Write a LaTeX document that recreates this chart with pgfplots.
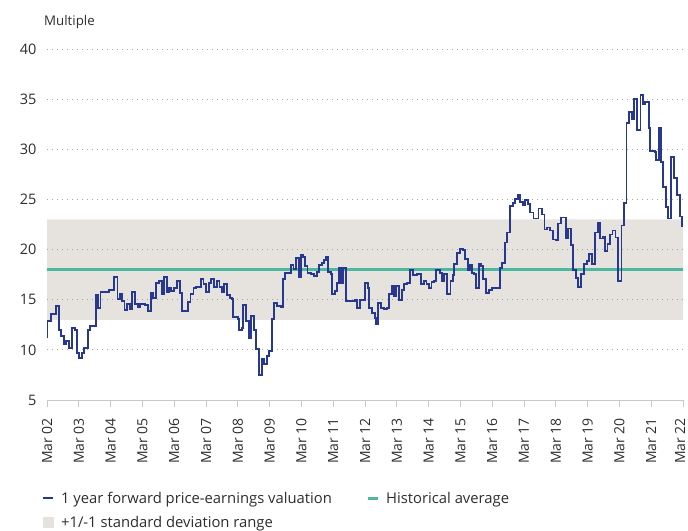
\documentclass[border=0pt]{standalone}
\usepackage{pgfplots}
\pgfplotsset{compat=1.18}
\usepackage{pgfplotstable}
\usepackage{fontspec}
\setmainfont{Open Sans}
\definecolor{navy}{RGB}{40,56,145}
\definecolor{avgteal}{RGB}{76,184,160}
\definecolor{bandc}{RGB}{230,227,222}
\definecolor{gridc}{RGB}{165,165,165}
\definecolor{axc}{RGB}{200,200,200}
\definecolor{txt}{RGB}{45,45,45}

\pgfplotstableread{
x v
0.000 11.3
0.016 12.9
0.116 13.6
0.273 14.4
0.367 12.0
0.448 11.4
0.524 10.6
0.605 10.9
0.690 10.2
0.774 12.2
0.868 12.0
0.931 9.7
1.013 9.2
1.088 9.7
1.169 10.2
1.276 12.0
1.348 12.4
1.527 15.5
1.608 14.2
1.683 15.8
1.944 16.0
2.100 17.3
2.216 15.1
2.288 15.6
2.351 14.9
2.436 14.0
2.517 14.6
2.602 14.1
2.687 15.8
2.768 14.6
2.853 14.3
2.937 14.6
3.072 14.5
3.176 13.9
3.260 15.7
3.345 15.2
3.439 16.7
3.520 16.9
3.614 15.6
3.677 17.3
3.771 15.8
3.834 16.2
3.909 15.9
3.991 16.2
4.085 16.9
4.179 15.7
4.254 13.9
4.430 14.8
4.514 15.6
4.608 16.2
4.693 16.3
4.850 17.1
4.922 16.6
5.006 15.8
5.088 16.7
5.163 17.1
5.257 16.3
5.339 16.9
5.423 16.3
5.508 15.8
5.580 16.6
5.665 15.5
5.746 15.2
5.821 15.1
5.853 13.3
5.997 13.1
6.028 12.0
6.122 12.2
6.176 14.5
6.270 12.9
6.342 11.2
6.417 13.4
6.511 12.0
6.574 10.1
6.677 7.5
6.749 9.1
6.834 8.6
6.906 9.4
6.991 9.9
7.063 13.1
7.147 14.7
7.219 14.4
7.357 14.3
7.429 17.1
7.492 17.7
7.671 18.5
7.752 18.1
7.828 19.2
7.931 17.3
7.984 19.5
8.056 19.3
8.119 18.4
8.191 17.7
8.298 17.6
8.401 17.4
8.486 17.8
8.558 18.5
8.643 18.7
8.715 19.0
8.768 19.3
8.850 17.8
8.925 17.6
8.975 15.6
9.060 15.9
9.132 16.7
9.185 18.2
9.257 16.7
9.320 18.2
9.414 14.9
9.687 15.0
9.759 14.2
9.843 15.0
9.991 16.7
10.094 16.2
10.135 14.2
10.229 13.7
10.304 13.2
10.354 12.6
10.417 14.7
10.511 14.2
10.596 14.1
10.680 14.2
10.752 15.6
10.837 16.4
10.909 15.4
10.981 16.4
11.066 15.0
11.150 16.0
11.223 16.6
11.326 16.7
11.411 18.0
11.514 17.5
11.640 17.6
11.765 16.6
11.850 16.9
11.934 16.6
12.006 16.2
12.091 16.8
12.163 16.9
12.235 18.0
12.351 17.7
12.423 16.9
12.498 17.6
12.580 15.6
12.687 16.9
12.759 17.5
12.812 18.6
12.894 19.7
12.978 20.0
13.000 20.1
13.082 20.0
13.135 19.1
13.229 18.0
13.292 18.5
13.364 17.7
13.417 17.6
13.489 16.2
13.574 18.6
13.646 18.4
13.709 17.1
13.815 15.7
13.909 16.0
13.991 16.2
14.097 16.2
14.232 18.2
14.304 18.7
14.389 20.7
14.461 21.7
14.568 24.3
14.640 24.6
14.724 25.0
14.806 25.4
14.881 24.7
14.963 24.4
15.038 24.9
15.119 24.5
15.194 23.7
15.298 23.1
15.455 24.1
15.558 23.5
15.643 22.0
15.715 22.2
15.821 21.9
15.903 21.0
15.997 20.9
16.082 22.6
16.154 23.2
16.323 21.1
16.395 22.1
16.480 20.5
16.552 18.0
16.637 17.2
16.708 16.3
16.781 17.6
16.887 18.6
16.969 18.9
17.053 19.6
17.147 18.6
17.232 21.7
17.314 22.7
17.389 21.1
17.470 21.3
17.545 19.9
17.627 20.6
17.702 21.5
17.784 21.9
17.878 21.2
17.962 16.9
18.066 22.4
18.141 24.6
18.223 32.6
18.307 33.7
18.401 33.0
18.464 35.0
18.558 31.9
18.662 35.4
18.746 34.5
18.799 34.7
18.925 32.1
18.975 29.8
19.113 29.7
19.163 28.9
19.238 32.1
19.301 28.7
19.373 26.2
19.457 24.2
19.539 23.1
19.624 29.2
19.708 27.1
19.821 25.4
19.896 23.3
19.959 22.3
20.000 22.3
}\petable

\begin{document}
\begin{tikzpicture}
\begin{axis}[
  at={(47bp,131bp)}, anchor=south west,
  width=636bp, height=351bp, scale only axis,
  xmin=0, xmax=20, ymin=5, ymax=40,
  set layers,
  axis x line*=bottom, axis y line*=left,
  x axis line style={draw=axc, line width=0.8bp},
  y axis line style={draw=none},
  xtick={0,...,19},
  xticklabels={Mar 02,Mar 03,Mar 04,Mar 05,Mar 06,Mar 07,Mar 08,Mar 09,Mar 10,Mar 11,Mar 12,Mar 13,Mar 14,Mar 15,Mar 16,Mar 17,Mar 18,Mar 19,Mar 20,Mar 21},
  extra x ticks={20},
  extra x tick labels={Mar 22},
  extra x tick style={xticklabel style={yshift=3bp}},
  ytick={5,10,...,40},
  ymajorgrids,
  grid style={gridc, line width=0.9bp, dash pattern=on 0.9bp off 4.1bp},
  tick style={axc, line width=0.8bp},
  ytick style={draw=none},
  major tick length=7bp,
  tick align=outside,
  xticklabel shift=10bp,
  xticklabel style={rotate=90, anchor=east, inner sep=1bp, font=\fontsize{14bp}{16bp}\selectfont, text=txt},
  yticklabel style={font=\fontsize{14.5bp}{16bp}\selectfont, text=txt},
  /pgf/number format/assume math mode=true,
  legend columns=2,
  legend cell align=left,
  legend style={at={(axis description cs:-0.008,-0.256)}, anchor=north west,
    draw=none, fill=none, font=\fontsize{14.8bp}{17bp}\selectfont, text=txt,
    /tikz/every odd column/.append style={column sep=5bp},
    /tikz/every even column/.append style={column sep=33bp}, row sep=7bp, inner sep=0pt},
]
\addplot[fill=bandc, draw=none, on layer=axis background, forget plot]
  coordinates {(0,13) (20,13) (20,23) (0,23) (0,13)};
\addplot[avgteal, line width=2.4bp, forget plot] coordinates {(0,18) (20,18)};
\addplot[const plot, navy, line width=1.9bp, line join=miter, forget plot] table[x=x, y=v] {\petable};

\addlegendimage{legend image code/.code={\draw[navy, line width=2bp] (0bp,0bp) -- (10bp,0bp);}}
\addlegendentry{1 year forward price-earnings valuation}
\addlegendimage{legend image code/.code={\draw[avgteal, line width=2.4bp] (0bp,0bp) -- (10bp,0bp);}}
\addlegendentry{Historical average}
\addlegendimage{legend image code/.code={\fill[bandc] (0bp,-5bp) rectangle (10bp,5.5bp);}}
\addlegendentry{+1/-1 standard deviation range}
\end{axis}
\node[anchor=west, inner sep=0pt, font=\fontsize{13.3bp}{15bp}\selectfont, text=txt] at (44bp,509bp) {Multiple};
\pgfresetboundingbox
\path (0,0) rectangle (688bp,531bp);
\end{tikzpicture}
\end{document}
